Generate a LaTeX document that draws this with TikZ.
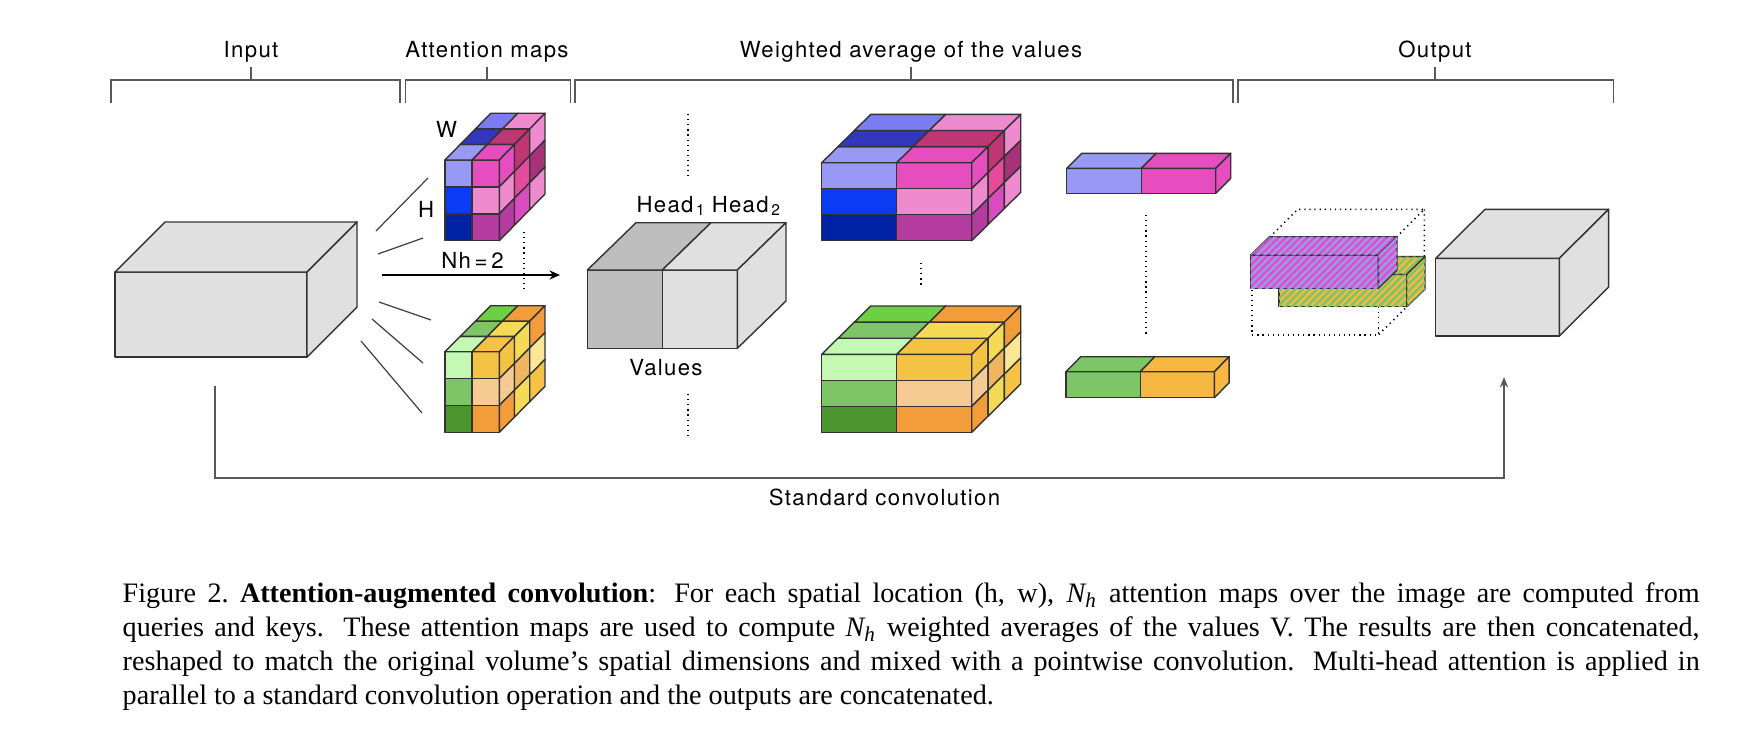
\documentclass[tikz,border=0pt]{standalone}
\usepackage{fontspec}
\setmainfont{Liberation Serif}
\newfontfamily\diagfont[LetterSpace=6]{TeX Gyre Heros}
\usetikzlibrary{arrows.meta,patterns.meta}

\definecolor{pPeri}{HTML}{9799F5}
\definecolor{pPeriB}{HTML}{7B7BF2}
\definecolor{pBlue}{HTML}{0A3CF5}
\definecolor{pNavy}{HTML}{0023A5}
\definecolor{pIndigo}{HTML}{3237BE}
\definecolor{pMag}{HTML}{E64EC0}
\definecolor{pPink}{HTML}{F08ACF}
\definecolor{pPlum}{HTML}{B43BA0}
\definecolor{pRasp}{HTML}{BE3774}
\definecolor{pRose}{HTML}{E64A9B}
\definecolor{pOrch}{HTML}{DB4BC0}
\definecolor{pWine}{HTML}{A8327A}
\definecolor{gLight}{HTML}{C4F9B4}
\definecolor{gMid}{HTML}{7DC566}
\definecolor{gDark}{HTML}{4A952D}
\definecolor{gBright}{HTML}{6CCF45}
\definecolor{gGold}{HTML}{F6C244}
\definecolor{gPeach}{HTML}{F6CB93}
\definecolor{gOrange}{HTML}{F39C3A}
\definecolor{gYellow}{HTML}{F5DB55}
\definecolor{gAmber}{HTML}{F0B560}
\definecolor{gCream}{HTML}{F9E796}
\definecolor{barGold}{HTML}{F6B843}
\definecolor{grayL}{HTML}{E0E0E0}
\definecolor{grayD}{HTML}{BEBEBE}

\tikzset{
  cell/.style={draw=black!80, line width=0.4pt, line join=round},
  paint/.style={fill=#1},
  cellgrid/.style n args={4}{x={(#1*0.01cm,0)}, y={(0,-#2*0.01cm)}, z={(#3*0.01cm,#4*0.01cm)}},
  lbl/.style={font=\diagfont\fontsize{6.3}{7.5}\selectfont, inner sep=0pt},
  bracket/.style={draw=black!65, line width=0.35pt},
  fan/.style={draw=black!75, line width=0.35pt},
  link/.style={draw=black!65, line width=0.35pt},
  dots/.style={draw=black, line width=0.45pt, dash pattern=on 0.35pt off 1.1pt},
  hatch/.style={paint/.style={fill=##1, postaction={pattern={Lines[angle=45,distance=1.45pt,line width=0.72pt]}, pattern color=#1}}},
  caption/.style={text width=15.76cm, align=justify, inner sep=0pt, font=\fontsize{8}{9.7}\selectfont}
}

% #1 columns, #2 depth layers, #3 front, #4 top, #5 side colours
\newcommand{\cellbox}[5]{%
  \foreach \c [count=\k from 0] in {#3} {
    \pgfmathtruncatemacro{\colI}{mod(\k,#1)}
    \pgfmathtruncatemacro{\rowJ}{div(\k,#1)}
    \draw[cell, paint=\c] (\colI,\rowJ,0) -- ++(1,0,0) -- ++(0,1,0) -- ++(-1,0,0) -- cycle;
  }
  \foreach \c [count=\k from 0] in {#4} {
    \pgfmathtruncatemacro{\colI}{mod(\k,#1)}
    \pgfmathtruncatemacro{\layD}{div(\k,#1)}
    \draw[cell, paint=\c] (\colI,0,\layD) -- ++(1,0,0) -- ++(0,0,1) -- ++(-1,0,0) -- cycle;
  }
  \foreach \c [count=\k from 0] in {#5} {
    \pgfmathtruncatemacro{\layD}{mod(\k,#2)}
    \pgfmathtruncatemacro{\rowJ}{div(\k,#2)}
    \draw[cell, paint=\c] (#1,\rowJ,\layD) -- ++(0,0,1) -- ++(0,1,0) -- ++(0,0,-1) -- cycle;
  }
}

\begin{document}
\begin{tikzpicture}[x=0.01cm, y=-0.01cm]
\useasboundingbox (0,0) rectangle (1740,748);

% brackets on top
\foreach \bl/\br/\bm/\bn/\bt in {111/400/251/input/Input, 405.5/570.5/487/attn/Attention maps,
    575/1233/911/wavg/Weighted average of the values, 1238/1613.5/1435/output/Output} {
  \draw[bracket] (\bl,103) -- (\bl,80) -- (\br,80) -- (\br,103);
  \draw[bracket] (\bm,80) -- (\bm,67);
  \node[lbl, anchor=base] (\bn) at (\bm,57) {\bt};
}

% input
\begin{scope}[shift={(115,272)}, cellgrid={192}{85}{50}{50}]
  \cellbox{1}{1}{grayL}{grayL}{grayL}
\end{scope}

% fan of lines
\foreach \fa/\fb/\fc/\fd [count=\i] in {376/231/428/178, 378/254/423/238, 379/302/431/320,
    372/319/423/363, 361/341/422/413} {
  \coordinate (fan\i a) at (\fa,\fb);
  \coordinate (fan\i b) at (\fc,\fd);
  \draw[fan] (fan\i a) -- (fan\i b);
}

\coordinate (arrA) at (382,275);
\coordinate (arrB) at (560,275);
\draw[black, line width=0.45pt, -{Stealth[length=3pt,width=2.6pt]}] (arrA) -- (arrB);
\node[lbl, anchor=base] (nh) at (472.5,268) {Nh\,=\,2};

% attention maps
\begin{scope}[shift={(445,160)}, cellgrid={27.15}{26.9}{15.23}{15.57}]
  \cellbox{2}{3}{pPeri,pMag,pBlue,pPink,pNavy,pPlum}{pPeri,pMag,pIndigo,pRasp,pPeriB,pPink}
    {pMag,pRasp,pPink,pPink,pRose,pWine,pPlum,pOrch,pPink}
\end{scope}
\begin{scope}[shift={(445,351.7)}, cellgrid={27.15}{26.87}{15.23}{15.33}]
  \cellbox{2}{3}{gLight,gGold,gMid,gPeach,gDark,gOrange}{gLight,gGold,gMid,gYellow,gBright,gOrange}
    {gGold,gYellow,gOrange,gPeach,gAmber,gCream,gOrange,gYellow,gGold}
\end{scope}
\node[lbl, anchor=base] (w) at (446.7,137.7) {W};
\node[lbl, anchor=base] (h) at (426,217) {H};
\draw[dots] (524,232) -- (524,293);

% values
\draw[dots] (688,114) -- (688,178);
\begin{scope}[shift={(587.3,270)}, cellgrid={75}{78.3}{48.7}{47.3}]
  \cellbox{2}{1}{grayD,grayL}{grayD,grayL}{grayL}
\end{scope}
\node[lbl, anchor=base] (head1) at (671.5,212) {Head\textsubscript{\,1}};
\node[lbl, anchor=base] (head2) at (746.7,212) {Head\textsubscript{\,2}};
\node[lbl, anchor=base] (values) at (666,375) {Values};
\draw[dots] (688,394) -- (688,438);

% weighted averages
\begin{scope}[shift={(821.7,162.7)}, cellgrid={75}{26}{16.33}{16.1}]
  \cellbox{2}{3}{pPeri,pMag,pBlue,pPink,pNavy,pPlum}{pPeri,pMag,pIndigo,pRasp,pPeriB,pPink}
    {pMag,pRasp,pPink,pPink,pRose,pWine,pPlum,pOrch,pPink}
\end{scope}
\draw[dots] (921,263) -- (921,286);
\begin{scope}[shift={(821.7,354.3)}, cellgrid={75}{26}{16.33}{16.1}]
  \cellbox{2}{3}{gLight,gGold,gMid,gPeach,gDark,gOrange}{gLight,gGold,gMid,gYellow,gBright,gOrange}
    {gGold,gYellow,gOrange,gPeach,gAmber,gCream,gOrange,gYellow,gGold}
\end{scope}

% flat heads
\begin{scope}[shift={(1066.7,168.3)}, cellgrid={74.5}{25}{15}{15}]
  \cellbox{2}{1}{pPeri,pMag}{pPeri,pMag}{pMag}
\end{scope}
\draw[dots] (1145.7,215) -- (1145.7,335);
\begin{scope}[shift={(1066,371.7)}, cellgrid={74.2}{26}{14.7}{15}]
  \cellbox{2}{1}{gMid,barGold}{gMid,barGold}{barGold}
\end{scope}

% output
\begin{scope}[shift={(1251.7,255)}, cellgrid={126.6}{80}{46}{45.7}]
  \draw[dots] (0,0,0) -- (1,0,0) -- (1,1,0) -- (0,1,0) -- cycle;
  \draw[dots] (0,0,0) -- (0,0,1) -- (1,0,1) -- (1,0,0);
  \draw[dots] (1,0,1) -- (1,1,1) -- (1,1,0);
\end{scope}
\begin{scope}[shift={(1279,274.3)}, cellgrid={127.7}{32.4}{18.3}{17.7}, hatch=gMid]
  \cellbox{1}{1}{barGold}{barGold}{barGold}
\end{scope}
\begin{scope}[shift={(1250.7,255)}, cellgrid={127.6}{33.3}{18.7}{18.3}, hatch=pPeri]
  \cellbox{1}{1}{pMag}{pMag}{pMag}
\end{scope}
\begin{scope}[shift={(1435.7,258.3)}, cellgrid={123.6}{77.7}{49.3}{49}]
  \cellbox{1}{1}{grayL}{grayL}{grayL}
\end{scope}

% standard convolution
\coordinate (skipA) at (215,386);
\coordinate (skipB) at (215,478);
\coordinate (skipC) at (1504,377);
\draw[link, -{Stealth[length=3pt,width=2.4pt]}] (skipA) -- (skipB) -| (skipC);
\node[lbl, anchor=base] (stdconv) at (884.5,505) {Standard convolution};

\node[caption, anchor=north west] (figcap) at (122,582) {Figure 2.\ \textbf{Attention-augmented convolution}:
  For each spatial location (h, w), \textit{N\textsubscript{h}} attention maps over the image are computed from\linebreak
  queries and keys.  These attention maps are used to compute \textit{N\textsubscript{h}} weighted averages of the values V. The results are then concatenated,\linebreak
  reshaped to match the original volume's spatial dimensions and mixed with a pointwise convolution.  Multi-head attention is applied in\linebreak
  parallel to a standard convolution operation and the outputs are concatenated.};
\end{tikzpicture}
\end{document}
